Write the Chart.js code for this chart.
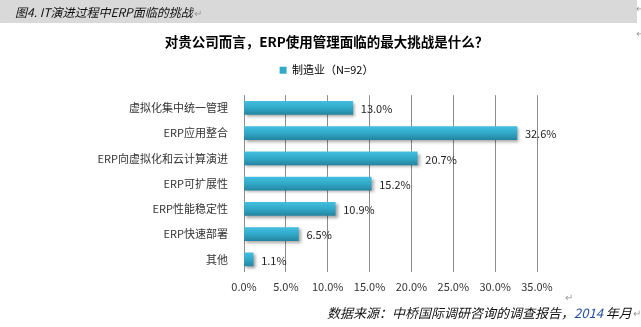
<!DOCTYPE html>
<html>
<head>
<meta charset="utf-8">
<script src="https://cdn.jsdelivr.net/npm/chart.js@4.4.0/dist/chart.umd.min.js"></script>
<style>
  body { margin: 0; background: #fff; }
  #wrap { width: 641px; height: 327px; position: relative; }
</style>
</head>
<body>
<div id="wrap"><canvas id="erp-challenge-bar-chart"></canvas></div>
<script>
var categories = ["虚拟化集中统一管理", "ERP应用整合", "ERP向虚拟化和云计算演进", "ERP可扩展性", "ERP性能稳定性", "ERP快速部署", "其他"];
var manufacturing = [13.0, 32.6, 20.7, 15.2, 10.9, 6.5, 1.1];
var xTicks = [0, 5, 10, 15, 20, 25, 30, 35];

var FONT = "'Noto Sans CJK SC', 'Noto Sans', sans-serif";

// page decorations: caption band and source line
var pageDeco = {
  id: 'pageDeco',
  beforeDraw: function (chart) {
    var c = chart.ctx;
    c.save();
    c.fillStyle = '#fff';
    c.fillRect(0, 0, chart.width, chart.height);
    c.fillStyle = '#d9d9d9';
    c.fillRect(0, 0, 637, 23);
    c.textBaseline = 'middle';
    c.fillStyle = '#111';
    c.font = 'italic 12px ' + FONT;
    c.fillText('图4. IT演进过程中ERP面临的挑战', 15, 12);
    var w = c.measureText('图4. IT演进过程中ERP面临的挑战').width;
    c.fillStyle = '#999';
    c.font = '10px ' + FONT;
    c.fillText('↵', 15 + w + 1, 13);
    c.fillText('↵', 636, 8);
    c.fillText('↵', 636, 33);

    // source line
    c.font = 'italic 13px ' + FONT;
    var p1 = '数据来源：中桥国际调研咨询的调查报告，';
    var p2 = '2014';
    var p3 = ' 年月';
    var x = 327;
    c.fillStyle = '#111';
    c.fillText(p1, x, 313);
    x += c.measureText(p1).width;
    c.fillStyle = '#1f4e9f';
    c.fillText(p2, x, 313);
    x += c.measureText(p2).width;
    c.fillStyle = '#111';
    c.fillText(p3, x, 313);
    x += c.measureText(p3).width;
    c.fillStyle = '#999';
    c.font = '10px ' + FONT;
    c.fillText('↵', x + 1, 313);
    c.fillText('↵', 565, 297);
    c.restore();
  }
};

// shadow under the bars + value labels
var barExtras = {
  id: 'barExtras',
  beforeDatasetDraw: function (chart) {
    var c = chart.ctx;
    c.save();
    c.shadowColor = 'rgba(0,0,0,0.35)';
    c.shadowBlur = 3;
    c.shadowOffsetX = 2;
    c.shadowOffsetY = 2;
  },
  afterDatasetDraw: function (chart) {
    chart.ctx.restore();
  },
  afterDatasetsDraw: function (chart) {
    var c = chart.ctx;
    var meta = chart.getDatasetMeta(0);
    c.save();
    c.font = '11px ' + FONT;
    c.fillStyle = '#222';
    c.textBaseline = 'middle';
    meta.data.forEach(function (bar, i) {
      c.fillText(manufacturing[i].toFixed(1) + '%', bar.x + 8, bar.y + 1);
    });
    c.restore();
  }
};

new Chart(document.getElementById("erp-challenge-bar-chart"), {
  type: 'bar',
  data: {
    labels: categories,
    datasets: [
      {
        label: "制造业（N=92）",
        data: manufacturing,
        barThickness: 13,
        borderWidth: 0,
        backgroundColor: function (ctx) {
          var chart = ctx.chart;
          if (!chart.chartArea || ctx.dataIndex === undefined) return '#33a8c8';
          var y = chart.scales.y.getPixelForValue(ctx.dataIndex);
          var g = chart.ctx.createLinearGradient(0, y - 7, 0, y + 7);
          g.addColorStop(0, '#45c0e0');
          g.addColorStop(0.5, '#31a9c9');
          g.addColorStop(1, '#24839f');
          return g;
        }
      }
    ]
  },
  options: {
    indexAxis: 'y',
    responsive: true,
    maintainAspectRatio: false,
    animation: false,
    layout: { padding: { top: 23, right: 0, bottom: 0, left: 12 } },
    plugins: {
      title: {
        display: true,
        text: '对贵公司而言，ERP使用管理面临的最大挑战是什么？',
        color: '#000',
        font: { family: FONT, size: 13.5, weight: 'bold' },
        padding: { top: 11, bottom: 4 }
      },
      legend: {
        display: true,
        labels: {
          color: '#333',
          font: { family: FONT, size: 11 },
          boxWidth: 7,
          boxHeight: 7,
          padding: 10.5,
          generateLabels: function (chart) {
            return [{ text: '制造业（N=92）', fillStyle: '#33a8c8', strokeStyle: '#33a8c8', lineWidth: 0, datasetIndex: 0 }];
          }
        }
      },
      tooltip: { enabled: false }
    },
    scales: {
      x: {
        min: 0,
        max: 35,
        afterBuildTicks: function (scale) {
          scale.ticks = xTicks.map(function (v) { return { value: v }; });
        },
        afterFit: function (scale) { scale.height = 55; },
        grid: { color: '#8c8c8c', lineWidth: 1, drawTicks: false },
        border: { display: false },
        ticks: {
          color: '#333',
          padding: 8,
          font: { family: FONT, size: 11 },
          callback: function (v) { return Number(v).toFixed(1) + '%'; }
        }
      },
      // empty top axis: gap between legend and plot
      topSpacer: {
        type: 'linear',
        position: 'top',
        afterFit: function (scale) { scale.height = 9.5; },
        grid: { display: false },
        border: { display: false },
        ticks: { display: false }
      },
      y: {
        afterFit: function (scale) { scale.width = 232; },
        grid: { display: false },
        border: { display: false },
        ticks: {
          color: '#333',
          padding: 8,
          font: { family: FONT, size: 11 }
        }
      },
      // empty right-hand axis that keeps the blank margin right of the plot
      spacer: {
        type: 'linear',
        position: 'right',
        afterFit: function (scale) { scale.width = 104; },
        grid: { display: false },
        border: { display: false },
        ticks: { display: false }
      }
    }
  },
  plugins: [pageDeco, barExtras]
});
</script>
</body>
</html>
